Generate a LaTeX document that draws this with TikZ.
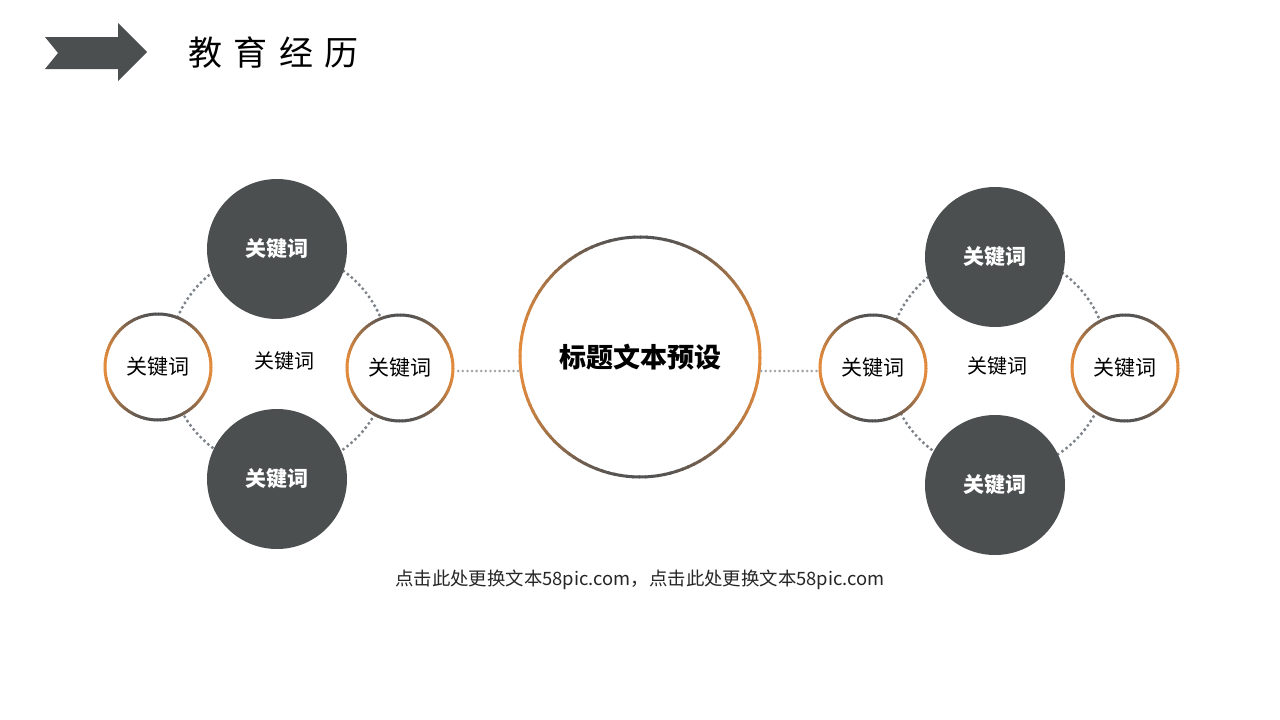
\documentclass[tikz,border=0pt]{standalone}
\usepackage{fontspec}
\newfontfamily\cjk{Noto Sans CJK SC}
\definecolor{darkc}{HTML}{4B4F50}
\definecolor{ringO}{HTML}{E38B3D}
\definecolor{ringG}{HTML}{535353}
\definecolor{dotc}{HTML}{7C8288}
\definecolor{dotl}{HTML}{A0A3A6}
\newcommand\gradring[3]{%
  \foreach \a in {0,3,...,357}{%
    \pgfmathsetmacro\m{100*(abs(cos(\a+1.5)))^2.2}%
    \draw[line width=#3, draw=ringO!\m!ringG] (#1) ++(\a:#2) arc[start angle=\a, end angle=\a+3.6, radius=#2];
  }}
\begin{document}
\begin{tikzpicture}[x=1pt,y=-1pt,
  darkcircle/.style={circle, fill=darkc, minimum size=140pt, inner sep=0pt, text=white, font=\cjk\bfseries\fontsize{21}{25}\selectfont},
  smallcircle/.style={circle, fill=white, minimum size=108pt, inner sep=0pt, text=black, font=\cjk\fontsize{21}{25}\selectfont},
  bigcircle/.style={circle, fill=white, minimum size=242pt, inner sep=0pt, text=black, font=\cjk\bfseries\fontsize{27}{32}\selectfont},
  plainlabel/.style={text=black, font=\cjk\fontsize{20}{24}\selectfont, inner sep=0pt},
  dotring/.style={draw=dotc, line width=3.4pt, line cap=round, dash pattern=on 0pt off 5.2pt},
  dotline/.style={draw=dotl, line width=2.8pt, line cap=round, dash pattern=on 0pt off 4.6pt}
]
\useasboundingbox (0,0) rectangle (1280,720);
\fill[white] (0,0) rectangle (1280,720);

% header arrow
\fill[darkc] (45,37) -- (118,37) -- (118,23) -- (147,52) -- (118,81) -- (118,69) -- (45,69) -- (58,53) -- cycle;
\node[anchor=west, inner sep=0pt, font=\cjk\fontsize{34}{40}\selectfont, text=black] (title) at (188,53) {教\hspace{11.5pt}育\hspace{11.5pt}经\hspace{11.5pt}历};

% dotted rings behind
\draw[dotring] (279,360) circle[radius=110];
\draw[dotring] (998,362) circle[radius=110];

% left cluster
\node[darkcircle] (lt) at (277,249) {关键词};
\node[darkcircle] (lb) at (277,479) {关键词};
\node[smallcircle] (ll) at (158,367) {关键词};
\node[smallcircle] (lr) at (400,368) {关键词};
\node[plainlabel] (lc) at (284,361) {关键词};
\gradring{ll}{53}{3}
\gradring{lr}{53}{3}

% center
\node[bigcircle] (cc) at (640,357) {标题文本预设};
\gradring{cc}{120}{3}

% right cluster
\node[darkcircle] (rt) at (995,257) {关键词};
\node[darkcircle] (rb) at (995,485) {关键词};
\node[smallcircle] (rl) at (873,368) {关键词};
\node[smallcircle] (rr) at (1125,368) {关键词};
\node[plainlabel] (rc) at (997,366) {关键词};
\gradring{rl}{53}{3}
\gradring{rr}{53}{3}

% connectors
\draw[dotline] ([xshift=4pt,yshift=-3pt]lr.east) -- ([yshift=-3pt]lr.east -| cc.west);
\draw[dotline] ([yshift=-14pt]cc.east) -- ([xshift=-1pt,yshift=-14pt]cc.east -| rl.west);

% footer
\node[inner sep=0pt, font=\cjk\fontsize{18.4}{22}\selectfont, text=black!85] (foot) at (640,580) {点击此处更换文本58pic.com，点击此处更换文本58pic.com};
\end{tikzpicture}
\end{document}
